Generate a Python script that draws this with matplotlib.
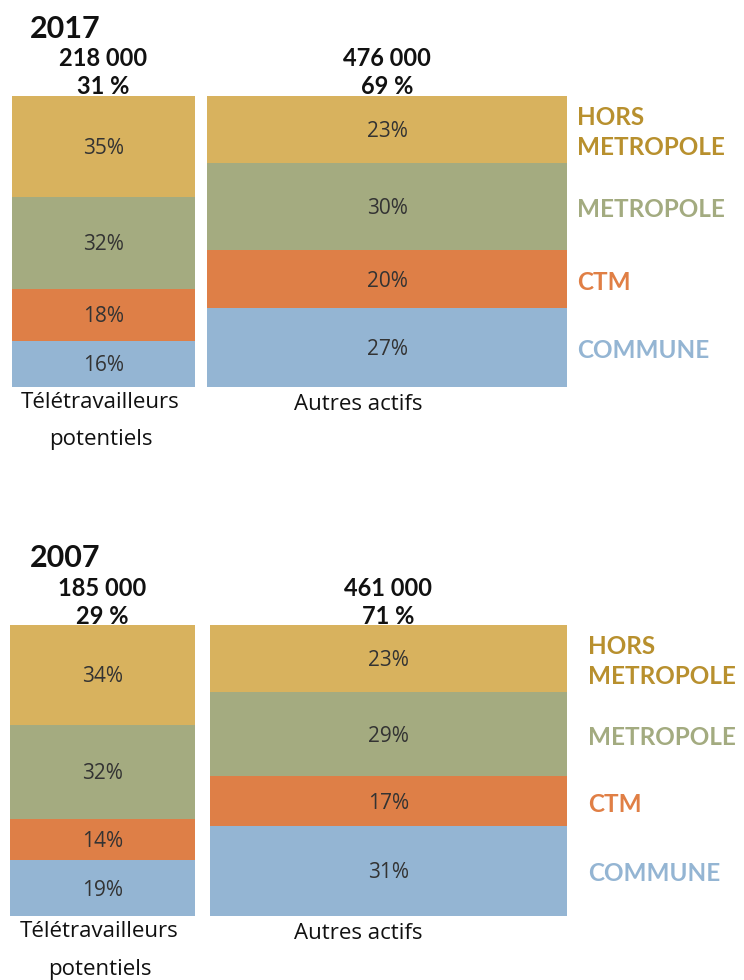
import matplotlib
matplotlib.use('Agg')
import matplotlib.pyplot as plt

plt.rcParams['font.family'] = ['Lato', 'DejaVu Sans']
LIGHT = ['Open Sans', 'DejaVu Sans']

# data
years = ['2017', '2007']
zones = ['COMMUNE', 'CTM', 'METROPOLE', 'HORS\nMETROPOLE']
totals = {'2017': ['218 000', '476 000'], '2007': ['185 000', '461 000']}
group_share = {'2017': ['31 %', '69 %'], '2007': ['29 %', '71 %']}
# share by zone, bottom to top: commune, ctm, metropole, hors metropole
shares = {
    '2017': [[16, 18, 32, 35], [27, 20, 30, 23]],
    '2007': [[19, 14, 32, 34], [31, 17, 29, 23]],
}

bar_colors = ['#94b5d3', '#de7f47', '#a4ab80', '#d8b25e']
text_colors = ['#94b5d3', '#e07f45', '#a3ab80', '#b8902e']

W, H = 744, 980
fig = plt.figure(figsize=(W / 100, H / 100), dpi=100)

# layout in pixels: (bar top, bar bottom, bar lefts, bar widths, zone label x)
layout = {
    '2017': dict(top=96, bottom=387, lefts=[12, 207], widths=[183, 360], lab_x=577),
    '2007': dict(top=625, bottom=916, lefts=[10, 210], widths=[185, 357], lab_x=588),
}

for year in years:
    L = layout[year]
    px = (L['bottom'] - L['top']) / 100.0  # pixels per unit
    # axes spanning full width, y from 0 (bar bottom) to 100 (bar top)
    ax = fig.add_axes([0, (H - L['bottom']) / H, 1, (L['bottom'] - L['top']) / H])
    ax.set_xlim(0, W)
    ax.set_ylim(0, 100)
    ax.axis('off')

    for i in range(2):
        vals = shares[year][i]
        s = sum(vals)
        bottom = 0
        x = L['lefts'][i] + L['widths'][i] / 2
        for k, v in enumerate(vals):
            h = v / s * 100
            ax.bar(x, h, width=L['widths'][i], bottom=bottom, color=bar_colors[k],
                   edgecolor='none')
            ax.text(x, bottom + h / 2 - 2 / px, f'{v}%', ha='center', va='center',
                    fontsize=15, color='#333333', family=LIGHT)
            if i == 1:
                ax.text(L['lab_x'], bottom + h / 2 - 3 / px, zones[k], ha='left',
                        va='center', fontsize=17.5, fontweight='bold',
                        color=text_colors[k], linespacing=1.4, clip_on=False)
            bottom += h

        # totals above bars
        ax.text(x, 100 + 37 / px, totals[year][i], ha='center', va='center',
                fontsize=17, fontweight='bold', color='#111111', clip_on=False)
        ax.text(x, 100 + 9 / px, group_share[year][i], ha='center', va='center',
                fontsize=17, fontweight='bold', color='#111111', clip_on=False)

    # group labels below
    cx = L['lefts'][0] + L['widths'][0] / 2 - 3
    ax.text(cx, -15 / px, 'Télétravailleurs', ha='center', va='center',
            fontsize=16, color='#111111', family=LIGHT, clip_on=False)
    ax.text(cx, -53 / px, 'potentiels', ha='center', va='center',
            fontsize=16, color='#111111', family=LIGHT, clip_on=False)
    ax.text(358, -17 / px, 'Autres actifs', ha='center', va='center',
            fontsize=16, color='#111111', family=LIGHT, clip_on=False)

    # year title
    ax.text(30, 100 + 67 / px, year, ha='left', va='center', fontsize=22,
            fontweight='bold', color='#111111', clip_on=False)

fig.savefig('out.png', dpi=100)
